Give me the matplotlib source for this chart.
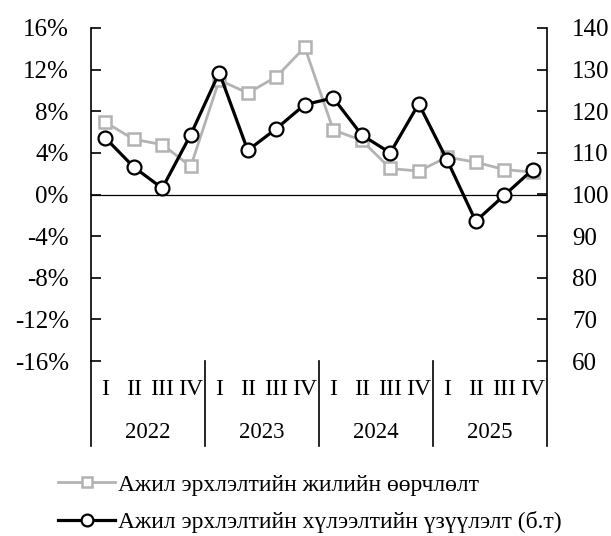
import matplotlib
matplotlib.use("Agg")
import matplotlib.pyplot as plt
import matplotlib.transforms as mtransforms
import numpy as np

plt.rcParams['font.family'] = ['Liberation Serif', 'DejaVu Serif']

quarters = ["I", "II", "III", "IV"] * 4
years = ["2022", "2023", "2024", "2025"]
employment_change = [6.95, 5.3, 4.8, 2.7, 11.0, 9.75, 11.3, 14.15,
                     6.2, 5.2, 2.5, 2.25, 3.6, 3.1, 2.4, 2.15]
employment_expect = [113.6, 106.6, 101.5, 114.4, 129.3, 110.6, 115.8, 121.6,
                     123.2, 114.3, 110.0, 121.8, 108.2, 93.6, 99.8, 106.0]
label_change = "Ажил эрхлэлтийн жилийн өөрчлөлт"
label_expect = "Ажил эрхлэлтийн хүлээлтийн үзүүлэлт (б.т)"

W, H = 611, 536
fig = plt.figure(figsize=(W / 100, H / 100), dpi=100)
ax = fig.add_axes([91 / W, (H - 361) / H, (547 - 91) / W, (361 - 28) / H])
ax2 = ax.twinx()

x = np.arange(len(quarters))
gray = "#b3b3b3"
l1, = ax.plot(x, employment_change, color=gray, lw=2.0, marker="s", ms=9,
              mfc="white", mec=gray, mew=1.8, label=label_change, zorder=3)
ax.axhline(0, color="black", lw=0.9, zorder=2)
l2, = ax2.plot(x, employment_expect, color="black", lw=2.3, marker="o", ms=10,
               mfc="white", mec="black", mew=1.6, label=label_expect, zorder=4)

ax.set_xlim(-0.5, len(quarters) - 0.5)
ax.set_ylim(-16, 16)
ax.set_yticks(np.arange(-16, 17, 4))
ax.set_yticklabels([f"{v}%" for v in range(-16, 17, 4)])
ax2.set_ylim(60, 140)
ax2.set_yticks(np.arange(60, 141, 10))

for a in (ax, ax2):
    a.spines["top"].set_visible(False)
    a.spines["bottom"].set_visible(False)
    a.set_xticks([])
    a.tick_params(axis="y", direction="in", length=7, width=1.2, labelsize=18, pad=16)
ax2.tick_params(axis="y", pad=18)
ax.spines["left"].set_linewidth(1.2)
ax2.spines["right"].set_linewidth(1.2)
ax2.spines["left"].set_visible(False)
ax.spines["right"].set_visible(False)
ax2.set_zorder(ax.get_zorder() + 1)
ax2.patch.set_visible(False)

trans = mtransforms.blended_transform_factory(ax.transData, ax.transAxes)
for i, q in enumerate(quarters):
    ax.text(i, -0.087, q, transform=trans, ha="center", va="center", fontsize=17)
for j, yr in enumerate(years):
    ax.text(4 * j + 1.5, -0.216, yr, transform=trans, ha="center", va="center", fontsize=16.5)
for k in range(len(years) + 1):
    ax.plot([4 * k - 0.5, 4 * k - 0.5], [0, -0.255], transform=trans, color="black",
            lw=1.2, clip_on=False)

leg = fig.legend([l1, l2], [label_change, label_expect], loc="upper left",
                 bbox_to_anchor=(58 / W, 1 - 474 / H), frameon=False, fontsize=17,
                 handlelength=2.42, handletextpad=0.1, labelspacing=0.65,
                 borderpad=0, borderaxespad=0, markerscale=0.85)

fig.savefig("out.png", dpi=100)
